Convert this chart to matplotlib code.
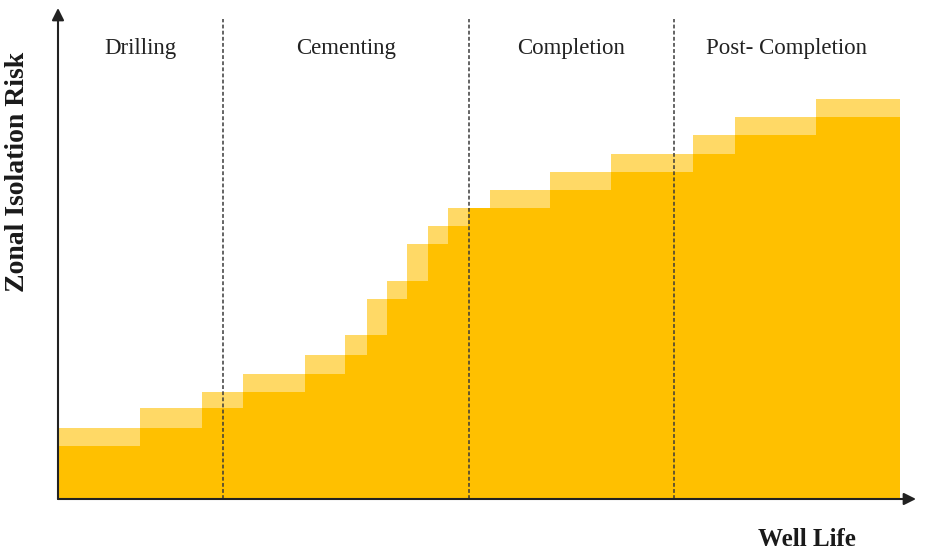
import matplotlib.pyplot as plt

# etapas da vida do poço
fases = ['Drilling', 'Cementing', 'Completion', 'Post- Completion']
limites_fases = [0, 165, 411, 616, 842]

# degraus: bordas no eixo "Well Life" e nível de risco de cada degrau
bordas = [0, 82, 144, 185, 247, 287, 309, 329, 349, 370, 390, 410, 432,
          492, 553, 635, 677, 758, 842]
risco = [2.9, 3.9, 5.0, 5.9, 6.9, 7.9, 9.0, 11.0, 12.0, 14.0, 15.0, 16.0,
         16.0, 17.0, 18.0, 19.0, 20.0, 21.0]
risco_max = [3.9, 5.0, 5.9, 6.9, 7.9, 9.0, 11.0, 12.0, 14.0, 15.0, 16.0,
             16.0, 17.0, 18.0, 19.0, 20.0, 21.0, 22.0]

cor_escura = '#FFC000'
cor_clara = '#FFD966'

plt.rcParams['font.family'] = ['Liberation Serif', 'DejaVu Serif']

fig = plt.figure(figsize=(9.25, 5.54), dpi=100)
ax = fig.add_axes([58 / 925, 55 / 554, 858 / 925, 491 / 554])
ax.set_xlim(0, 858)
ax.set_ylim(0, 491 / 18.18)

larguras = [b - a for a, b in zip(bordas[:-1], bordas[1:])]
ax.bar(bordas[:-1], risco_max, width=larguras, align='edge',
       color=cor_clara, linewidth=0, zorder=1)
ax.bar(bordas[:-1], risco, width=larguras, align='edge',
       color=cor_escura, linewidth=0, zorder=2)

# separadores tracejados entre as fases
for x in limites_fases[1:-1]:
    ax.plot([x, x], [0, 26.4], color='#3a3a3a', linestyle=(0, (2.5, 1.5)),
            linewidth=1.1, zorder=3)

for i, nome in enumerate(fases):
    xc = (limites_fases[i] + limites_fases[i + 1]) / 2
    if i == 3:
        xc = 729
    ax.text(xc, 24.8, nome, ha='center', va='center', fontsize=16.5,
            color='#222222')

# eixos com setas
for s in ax.spines.values():
    s.set_visible(False)
ax.set_xticks([])
ax.set_yticks([])
ax.annotate('', xy=(1.0, 0), xytext=(0, 0), xycoords='axes fraction',
            arrowprops=dict(arrowstyle='-|>', color='#222222', lw=1.5,
                            mutation_scale=18, shrinkA=0, shrinkB=0),
            zorder=4)
ax.annotate('', xy=(0, 1.0), xytext=(0, 0), xycoords='axes fraction',
            arrowprops=dict(arrowstyle='-|>', color='#222222', lw=1.5,
                            mutation_scale=18, shrinkA=0, shrinkB=0),
            zorder=4)

fig.text(18 / 925, 1 - 172 / 554, 'Zonal Isolation Risk', rotation=90,
         ha='center', va='center', fontsize=20, fontweight='bold',
         color='#1a1a1a')
fig.text(807 / 925, 1 - 540 / 554, 'Well Life', ha='center', va='center',
         fontsize=18, fontweight='bold', color='#1a1a1a')

fig.savefig('out.png', dpi=100)
plt.close()
